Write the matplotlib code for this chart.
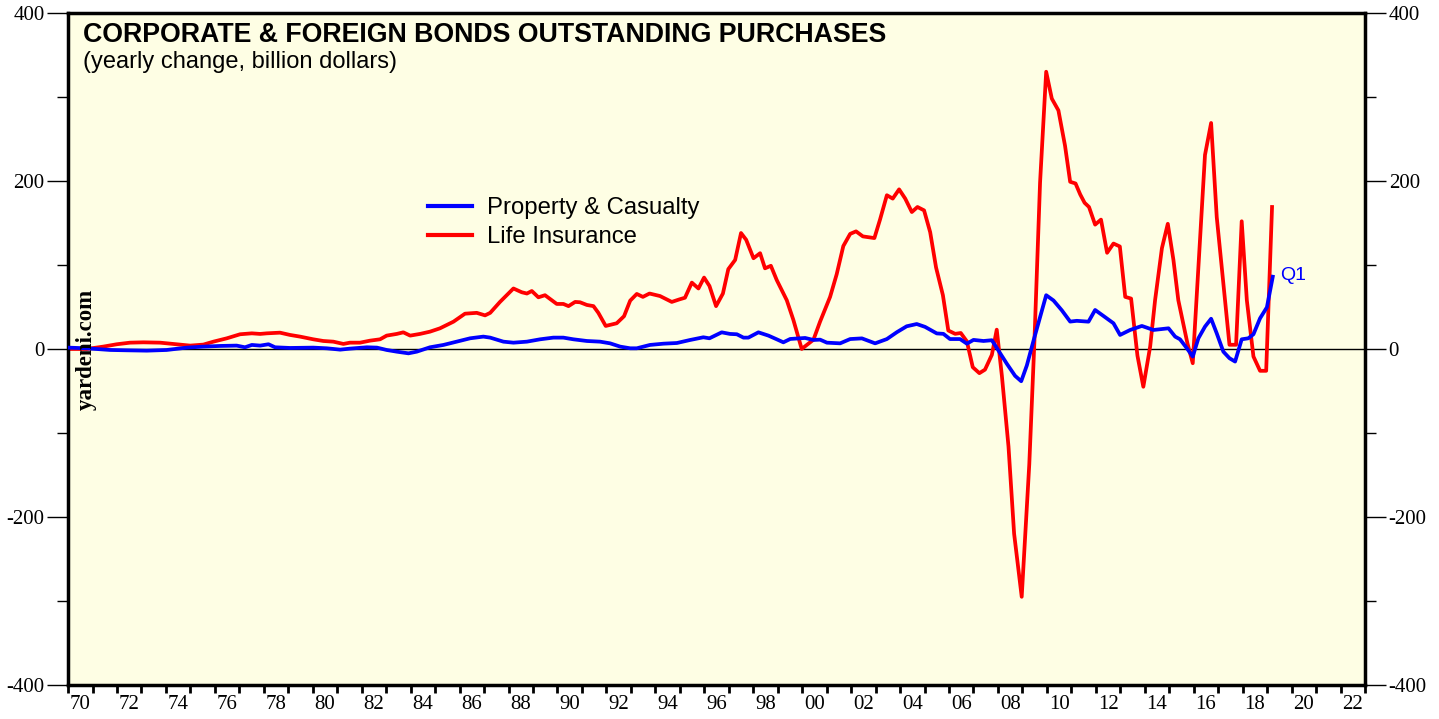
import matplotlib.pyplot as plt
from matplotlib.ticker import FixedLocator, MultipleLocator, NullFormatter

plt.rcParams['axes.unicode_minus'] = False

# Life insurance: yearly change, billion dollars
life_years = [1970.00, 1970.76, 1971.44, 1971.99, 1972.53, 1973.08, 1973.76, 1974.30, 1974.99, 1975.53,
              1975.94, 1976.49, 1977.03, 1977.51, 1977.85, 1978.12, 1978.66, 1979.07, 1979.48, 1980.02,
              1980.43, 1980.84, 1981.25, 1981.52, 1981.93, 1982.34, 1982.75, 1983.02, 1983.43, 1983.70,
              1983.98, 1984.38, 1984.79, 1985.20, 1985.75, 1986.22, 1986.70, 1987.04, 1987.25, 1987.65,
              1988.20, 1988.54, 1988.75, 1988.95, 1989.22, 1989.49, 1989.97, 1990.24, 1990.45, 1990.72,
              1990.92, 1991.20, 1991.47, 1991.67, 1991.97, 1992.42, 1992.72, 1992.97, 1993.24, 1993.49,
              1993.76, 1994.19, 1994.67, 1994.98, 1995.21, 1995.49, 1995.76, 1995.99, 1996.21, 1996.48,
              1996.76, 1996.98, 1997.26, 1997.50, 1997.71, 1998.01, 1998.28, 1998.48, 1998.72, 1998.96,
              1999.37, 1999.64, 1999.98, 2000.46, 2000.73, 2001.14, 2001.41, 2001.68, 2001.96, 2002.20,
              2002.48, 2002.95, 2003.18, 2003.46, 2003.70, 2003.96, 2004.21, 2004.48, 2004.71, 2004.98,
              2005.23, 2005.47, 2005.75, 2005.97, 2006.25, 2006.48, 2006.73, 2006.97, 2007.24, 2007.47,
              2007.75, 2007.95, 2008.16, 2008.43, 2008.66, 2008.97, 2009.28, 2009.49, 2009.72, 2009.97,
              2010.20, 2010.47, 2010.74, 2010.95, 2011.17, 2011.36, 2011.54, 2011.72, 2011.97, 2012.21,
              2012.46, 2012.72, 2012.98, 2013.20, 2013.44, 2013.70, 2013.94, 2014.22, 2014.42, 2014.70,
              2014.94, 2015.17, 2015.37, 2015.55, 2015.74, 2015.96, 2016.19, 2016.46, 2016.71, 2016.94,
              2017.24, 2017.46, 2017.73, 2017.96, 2018.17, 2018.44, 2018.71, 2018.96, 2019.20]
life_vals = [0, 0, 2.8, 5.6, 7.5, 7.9, 7.5, 6, 4, 5.2,
             8.7, 12.7, 17.5, 18.6, 17.9, 18.6, 19.4, 16.7, 14.7, 11.5,
             9.5, 8.7, 6, 7.5, 7.5, 9.9, 11.5, 15.9, 17.9, 19.8,
             15.9, 17.9, 20.6, 24.6, 32.5, 42, 43, 40, 43, 56,
             72, 67.5, 66, 69, 61.5, 64, 53.6, 53.6, 51, 56,
             55.6, 52.4, 51, 43, 27.4, 30.6, 39, 57.5, 65.5, 62,
             66, 63, 56, 59, 61, 79, 72, 85, 75, 51,
             66, 95, 106, 138, 130, 108, 114, 96, 99, 82,
             58, 34.5, 0, 11, 32.5, 62, 89, 122.5, 137, 140,
             134, 132, 154, 183, 179, 190, 179, 163, 169, 165,
             139, 97, 64, 22, 18, 19, 9, -21.7, -28.8, -24.6,
             -7, 23, -32, -116, -220, -295, -137, 9.6, 198, 330,
             298, 284, 242, 199, 197, 184, 174, 169, 148, 154,
             114.5, 125.5, 122, 62, 60, -8, -45, 3, 58, 120,
             149, 106, 58, 33, 7, -17, 98, 231, 269, 157,
             70, 5, 5, 152, 58, -9, -26, -26, 169]

# Property & casualty: yearly change, billion dollars
pc_years = [1970.00, 1970.76, 1971.72, 1972.40, 1973.22, 1974.03, 1974.85, 1975.53, 1976.21, 1976.89,
            1977.23, 1977.51, 1977.85, 1978.19, 1978.46, 1979.07, 1980.02, 1980.57, 1981.12, 1981.52,
            1982.21, 1982.62, 1983.02, 1983.43, 1983.91, 1984.25, 1984.79, 1985.34, 1985.88, 1986.43,
            1986.97, 1987.25, 1987.79, 1988.20, 1988.75, 1989.29, 1989.83, 1990.24, 1990.65, 1991.20,
            1991.74, 1992.15, 1992.56, 1992.97, 1993.24, 1993.78, 1994.33, 1994.88, 1995.42, 1995.96,
            1996.21, 1996.71, 1997.05, 1997.33, 1997.60, 1997.80, 1998.21, 1998.62, 1998.96, 1999.23,
            1999.51, 2000.12, 2000.46, 2000.73, 2001.01, 2001.55, 2001.96, 2002.44, 2002.98, 2003.46,
            2003.87, 2004.27, 2004.68, 2005.02, 2005.50, 2005.77, 2006.04, 2006.45, 2006.73, 2007.00,
            2007.41, 2007.75, 2007.95, 2008.36, 2008.70, 2008.95, 2009.18, 2009.45, 2009.97, 2010.27,
            2010.61, 2010.95, 2011.22, 2011.70, 2011.97, 2012.31, 2012.72, 2012.99, 2013.40, 2013.88,
            2014.08, 2014.35, 2014.97, 2015.24, 2015.44, 2015.72, 2015.96, 2016.19, 2016.46, 2016.71,
            2016.94, 2017.21, 2017.46, 2017.69, 2017.96, 2018.23, 2018.44, 2018.71, 2018.99, 2019.23]
pc_vals = [1.6, 0.8, -1.2, -1.6, -2, -1.2, 1.6, 2.8, 3.6, 4,
           2, 4.8, 4, 5.6, 2, 1.2, 1.6, 0.8, -0.8, 0.4,
           2, 1.6, -1.2, -3.2, -5.2, -3.2, 2, 4.8, 8.7, 12.7,
           14.7, 13.5, 8.7, 7.5, 8.7, 11.5, 13.5, 13.5, 11.5, 9.5,
           8.7, 6.7, 2.8, 0.8, 0.8, 4.8, 6.3, 7.1, 10.7, 13.9,
           12.7, 19.8, 17.9, 17.5, 13.5, 13.5, 19.8, 15.9, 11.5, 7.9,
           11.9, 13.1, 10.7, 11.1, 7.5, 6.7, 11.8, 12.6, 6.7, 11.8,
           20, 27, 29.7, 26.3, 18.5, 18, 11.8, 11.8, 6.3, 10.8,
           9.5, 10.4, 1.3, -17.5, -32, -38.4, -19.6, 9.6, 64, 57.7,
           46, 32.6, 33.5, 32.5, 46.4, 39.3, 30.6, 16.7, 22.6, 27.4,
           25.4, 22.6, 24.6, 14.7, 11.5, 0.8, -9, 12.7, 26.6, 36,
           18.6, -3.2, -11, -15, 11.5, 12.7, 17.5, 36.5, 49.6, 86]

year_labels = list(range(1970, 2023, 2))

fig = plt.figure(figsize=(14.39, 7.19), dpi=100)
ax = fig.add_axes([0.0473, 0.0473, 0.9013, 0.9347])
ax.set_facecolor('#fefee4')

ax.axhline(0, color='black', lw=1, zorder=1)
ax.plot(pc_years, pc_vals, color='#0000ff', lw=2.7, label='Property & Casualty', zorder=3)
ax.plot(life_years, life_vals, color='#ff0000', lw=2.7, label='Life Insurance', zorder=2)

ax.set_xlim(1970, 2023)
ax.set_ylim(-400, 400)

# years: tick every year, label centred inside each even year
ax.xaxis.set_major_locator(MultipleLocator(1))
ax.xaxis.set_major_formatter(NullFormatter())
ax.xaxis.set_minor_locator(FixedLocator([y + 0.5 for y in year_labels]))
ax.set_xticklabels(['%02d' % (y % 100) for y in year_labels], minor=True)
ax.tick_params(axis='x', which='major', direction='out', length=6, width=2)
ax.tick_params(axis='x', which='minor', length=0, pad=7, labelsize=15)

ax.yaxis.set_major_locator(MultipleLocator(200))
ax.yaxis.set_minor_locator(MultipleLocator(100))
ax.tick_params(axis='y', which='major', direction='out', length=15, width=1, labelsize=15,
               left=True, right=True, labelleft=True, labelright=True, pad=2)
ax.tick_params(axis='y', which='minor', direction='out', length=8, width=1, left=True, right=True)

for lab in ax.get_xticklabels(minor=True) + ax.get_yticklabels():
    lab.set_family('Liberation Serif')

for s in ax.spines.values():
    s.set_linewidth(2.5)

ax.text(0.0116, 0.957, 'CORPORATE & FOREIGN BONDS OUTSTANDING PURCHASES', transform=ax.transAxes,
        fontsize=19.3, fontweight='bold', family='Liberation Sans', va='baseline')
ax.text(0.0116, 0.918, '(yearly change, billion dollars)', transform=ax.transAxes,
        fontsize=17, family='Liberation Sans', va='baseline')

ax.text(0.0142, 0.5, 'yardeni.com', transform=ax.transAxes, rotation=90, fontsize=16.5,
        fontweight='bold', family='Liberation Serif', va='center', ha='center')

ax.text(pc_years[-1] + 0.3, pc_vals[-1] + 2, 'Q1', color='#0000ff', fontsize=14,
        family='Liberation Sans', va='center')

leg = ax.legend(loc='upper left', bbox_to_anchor=(0.2776, 0.726), frameon=False,
                prop={'family': 'Liberation Sans', 'size': 17.2}, handlelength=1.85,
                handletextpad=0.6, labelspacing=0.3, borderaxespad=0, borderpad=0)
for h in leg.get_lines():
    h.set_linewidth(3)

plt.savefig('out.png', dpi=100)
